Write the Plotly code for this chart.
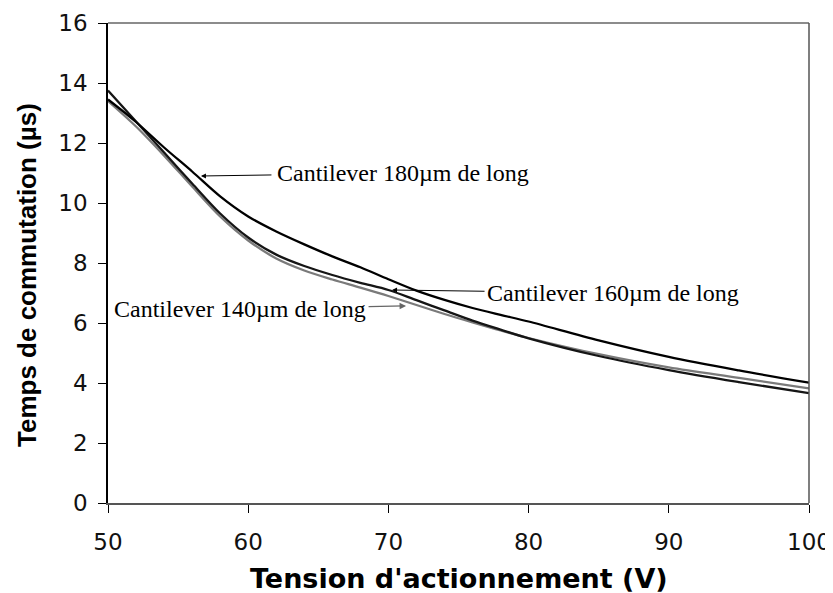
import plotly.graph_objects as go

# Data (Tension d'actionnement (V) -> Temps de commutation (µs))
voltage = [50, 52, 54, 56, 58, 60, 62, 64, 66, 68, 70, 72, 74, 76, 78, 80, 85, 90, 95, 100]
t_180 = [13.45, 12.7, 11.85, 11.05, 10.22, 9.55, 9.05, 8.62, 8.22, 7.86, 7.46, 7.08, 6.77, 6.5, 6.27, 6.05, 5.42, 4.87, 4.42, 4.01]
t_160 = [13.75, 12.72, 11.68, 10.65, 9.65, 8.85, 8.28, 7.9, 7.6, 7.34, 7.1, 6.76, 6.42, 6.08, 5.78, 5.49, 4.9, 4.43, 4.03, 3.66]
t_140 = [13.4, 12.55, 11.58, 10.55, 9.55, 8.75, 8.15, 7.75, 7.45, 7.18, 6.9, 6.6, 6.3, 6.02, 5.75, 5.5, 4.96, 4.52, 4.17, 3.82]

labels = ["Cantilever 180µm de long", "Cantilever 160µm de long", "Cantilever 140µm de long"]
x_ticks = [50, 60, 70, 80, 90, 100]
y_ticks = [0, 2, 4, 6, 8, 10, 12, 14, 16]

fig = go.Figure()
fig.add_trace(go.Scatter(x=voltage, y=t_140, mode="lines", line=dict(color="#7a7a7a", width=2.3, shape="spline", smoothing=0.9), name=labels[2]))
fig.add_trace(go.Scatter(x=voltage, y=t_160, mode="lines", line=dict(color="#151515", width=2.3, shape="spline", smoothing=0.9), name=labels[1]))
fig.add_trace(go.Scatter(x=voltage, y=t_180, mode="lines", line=dict(color="#000000", width=2.3, shape="spline", smoothing=0.9), name=labels[0]))

ann_font = dict(family="Liberation Serif, Times New Roman, serif", size=24, color="#000")
fig.add_annotation(x=56.63, y=10.9, text=labels[0], showarrow=True, ax=202, ay=-3, borderpad=5,
                   arrowhead=2, arrowsize=1, arrowwidth=1, arrowcolor="#000", font=ann_font)
fig.add_annotation(x=70.26, y=7.1, text=labels[1], showarrow=True, ax=221, ay=3, borderpad=2,
                   arrowhead=2, arrowsize=1, arrowwidth=1, arrowcolor="#000", font=ann_font)
fig.add_annotation(x=71.26, y=6.57, text=labels[2], showarrow=True, ax=-166, ay=3, borderpad=2,
                   arrowhead=2, arrowsize=1, arrowwidth=1.3, arrowcolor="#666", font=ann_font)

# axis titles
fig.add_annotation(xref="paper", yref="paper", x=0.5, y=0, yshift=-75, showarrow=False,
                   xanchor="center", yanchor="middle",
                   text="<b>Tension d'actionnement (V)</b>",
                   font=dict(family="DejaVu Sans, sans-serif", size=27, color="#000"))
fig.add_annotation(xref="paper", yref="paper", x=0, y=0.475, xshift=-81, showarrow=False, textangle=-90,
                   xanchor="center", yanchor="middle",
                   text="<b>Temps de commutation (µs)</b>",
                   font=dict(family="Liberation Sans, Arial, sans-serif", size=26, color="#000"))

# box lines (top and right) in grey
fig.add_shape(type="line", xref="paper", yref="paper", x0=0, x1=1, y0=1, y1=1, line=dict(color="#666", width=1.5))
fig.add_shape(type="line", xref="paper", yref="paper", x0=1, x1=1, y0=0, y1=1, line=dict(color="#555", width=1.5))

tick_font = dict(family="DejaVu Sans, sans-serif", size=23, color="#111")

fig.update_xaxes(range=[50, 100], tickvals=x_ticks, ticks="outside", ticklen=8, tickwidth=1.2, tickcolor="#000",
                 showline=True, linecolor="#555", linewidth=1.5, showgrid=False, zeroline=False,
                 tickfont=tick_font, ticklabelstandoff=10, ticklabeloverflow="allow", automargin=False)
fig.update_yaxes(range=[0, 16], tickvals=y_ticks, ticks="outside", ticklen=8, tickwidth=1.2, tickcolor="#000",
                 showline=True, linecolor="#000", linewidth=1.5, showgrid=False, zeroline=False,
                 tickfont=tick_font, ticklabelstandoff=6, ticklabeloverflow="allow", automargin=False)

# the page adds an 8px body margin, so the figure is sized/shifted to compensate
fig.update_layout(width=825, height=585, margin=dict(l=100, r=24, t=15, b=90),
                  plot_bgcolor="white", paper_bgcolor="white", showlegend=False)

fig.write_html("out.html")
